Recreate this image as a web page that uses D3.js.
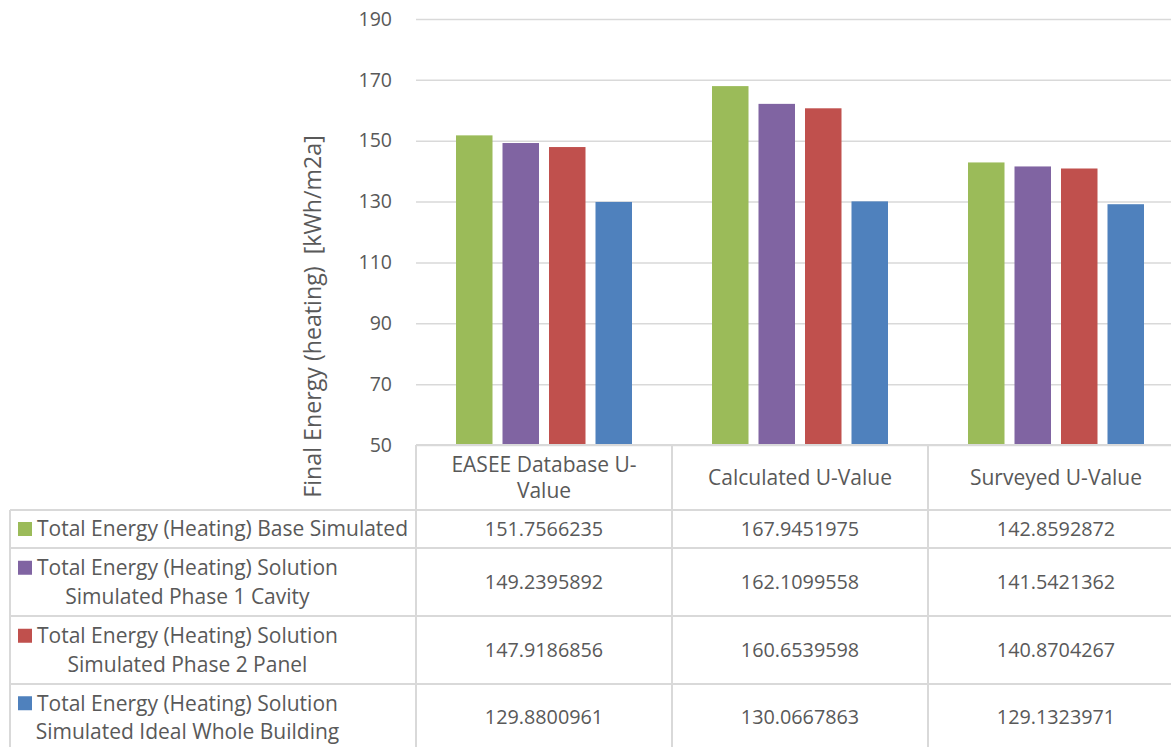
<!DOCTYPE html>
<html>
<head>
<meta charset="utf-8">
<script src="https://cdn.jsdelivr.net/npm/d3@7"></script>
<style>
  html, body { margin: 0; padding: 0; background: #ffffff; }
  svg { display: block; }
  text { font-family: "Open Sans", "DejaVu Sans", sans-serif; fill: #595959; }
</style>
</head>
<body>
<svg id="chart" width="1171" height="747"></svg>
<script>
// ---- data ----
const categories = ["EASEE Database U-Value", "Calculated U-Value", "Surveyed U-Value"];
const categoryLabelLines = [["EASEE Database U-", "Value"], ["Calculated U-Value"], ["Surveyed U-Value"]];
const seriesNames = [
  "Total Energy (Heating) Base Simulated",
  "Total Energy (Heating) Solution Simulated Phase 1 Cavity",
  "Total Energy (Heating) Solution Simulated Phase 2 Panel",
  "Total Energy (Heating) Solution Simulated Ideal Whole Building"
];
const seriesLabelLines = [
  ["Total Energy (Heating) Base Simulated"],
  ["Total Energy (Heating) Solution", "Simulated Phase 1 Cavity"],
  ["Total Energy (Heating) Solution", "Simulated Phase 2 Panel"],
  ["Total Energy (Heating) Solution", "Simulated Ideal Whole Building"]
];
const baseSimulated = [151.7566235, 167.9451975, 142.8592872];
const phase1Cavity = [149.2395892, 162.1099558, 141.5421362];
const phase2Panel = [147.9186856, 160.6539598, 140.8704267];
const idealWholeBuilding = [129.8800961, 130.0667863, 129.1323971];
const valueLabels = [
  ["151.7566235", "167.9451975", "142.8592872"],
  ["149.2395892", "162.1099558", "141.5421362"],
  ["147.9186856", "160.6539598", "140.8704267"],
  ["129.8800961", "130.0667863", "129.1323971"]
];
const yTicks = [50, 70, 90, 110, 130, 150, 170, 190];
const yTitle = "Final Energy (heating)  [kWh/m2a]";
const seriesColors = ["#9BBB59", "#8064A2", "#C0504D", "#4F81BD"];

const seriesValues = [baseSimulated, phase1Cavity, phase2Panel, idealWholeBuilding];

// ---- layout ----
const svg = d3.select("#chart");
const plotLeft = 416, plotRight = 1184, plotTop = 19, plotBottom = 445;
const tableLeft = 10;
const rowEdges = [445, 510, 548, 616, 684, 760];
const gridColor = "#D9D9D9";

const x0 = d3.scaleBand().domain(categories).range([plotLeft, plotRight]).paddingInner(0).paddingOuter(0);
const x1 = d3.scaleBand().domain(seriesNames).range([40, 216]).paddingInner(0.215).paddingOuter(0);
const y = d3.scaleLinear().domain([50, 190]).range([plotBottom, plotTop]);

// gridlines
const yAxis = d3.axisLeft(y).tickValues(yTicks).tickSize(-(plotRight - plotLeft)).tickPadding(24).tickFormat(d3.format("d"));
const gAxis = svg.append("g").attr("transform", `translate(${plotLeft},0)`).call(yAxis);
gAxis.select(".domain").remove();
gAxis.selectAll(".tick line").attr("stroke", gridColor).attr("stroke-width", 1.5);
gAxis.selectAll(".tick text").attr("font-size", 19.5).attr("fill", "#595959")
  .attr("font-family", '"Open Sans", sans-serif');

// bars
const groups = svg.append("g").selectAll("g").data(categories).join("g")
  .attr("transform", d => `translate(${x0(d)},0)`);
groups.selectAll("rect")
  .data((c, ci) => seriesNames.map((s, si) => ({ s, si, v: seriesValues[si][ci] })))
  .join("rect")
  .attr("x", d => x1(d.s))
  .attr("width", x1.bandwidth())
  .attr("y", d => y(d.v))
  .attr("height", d => y(50) - y(d.v))
  .attr("fill", d => seriesColors[d.si]);

// y title
svg.append("text")
  .attr("transform", `translate(313,316.5) rotate(-90)`)
  .attr("text-anchor", "middle")
  .attr("dy", "0.35em")
  .attr("font-size", 23.2)
  .style("white-space", "pre")
  .attr("xml:space", "preserve")
  .text(yTitle);

// ---- data table ----
const tbl = svg.append("g");
// horizontal lines
tbl.append("line").attr("x1", plotLeft).attr("x2", 1171).attr("y1", rowEdges[0]).attr("y2", rowEdges[0])
  .attr("stroke", gridColor).attr("stroke-width", 2);
rowEdges.slice(1, 5).forEach(ry => {
  tbl.append("line").attr("x1", tableLeft).attr("x2", 1171).attr("y1", ry).attr("y2", ry)
    .attr("stroke", gridColor).attr("stroke-width", 2);
});
// vertical lines
tbl.append("line").attr("x1", tableLeft).attr("x2", tableLeft).attr("y1", rowEdges[1]).attr("y2", 747)
  .attr("stroke", gridColor).attr("stroke-width", 2);
categories.forEach(c => {
  tbl.append("line").attr("x1", x0(c)).attr("x2", x0(c)).attr("y1", rowEdges[0]).attr("y2", 747)
    .attr("stroke", gridColor).attr("stroke-width", 2);
});

// header labels
categories.forEach((c, ci) => {
  const lines = categoryLabelLines[ci];
  const cy = (rowEdges[0] + rowEdges[1]) / 2;
  const lh = 26;
  lines.forEach((ln, li) => {
    tbl.append("text")
      .attr("x", x0(c) + x0.bandwidth() / 2)
      .attr("y", cy + (li - (lines.length - 1) / 2) * lh)
      .attr("dy", "0.35em")
      .attr("text-anchor", "middle")
      .attr("font-size", 21)
      .text(ln);
  });
});

// rows
seriesNames.forEach((s, si) => {
  const top = rowEdges[si + 1];
  const bottom = si === 3 ? 751 : rowEdges[si + 2];
  const cy = (top + bottom) / 2;
  const lines = seriesLabelLines[si];
  const lh = 28.5;
  const firstY = cy - (lines.length - 1) / 2 * lh;
  // legend key
  tbl.append("rect").attr("x", 18).attr("y", firstY - 7).attr("width", 14).attr("height", 14)
    .attr("fill", seriesColors[si]);
  const t0 = tbl.append("text").attr("x", 37).attr("y", firstY).attr("dy", "0.35em")
    .attr("font-size", 21).text(lines[0]);
  const w0 = t0.node().getComputedTextLength();
  lines.slice(1).forEach((ln, li) => {
    tbl.append("text").attr("x", 37 + w0 / 2).attr("y", firstY + (li + 1) * lh).attr("dy", "0.35em")
      .attr("text-anchor", "middle").attr("font-size", 21).text(ln);
  });
  categories.forEach((c, ci) => {
    tbl.append("text")
      .attr("x", x0(c) + x0.bandwidth() / 2)
      .attr("y", cy)
      .attr("dy", "0.35em")
      .attr("text-anchor", "middle")
      .attr("font-size", 19.8)
      .text(valueLabels[si][ci]);
  });
});
</script>
</body>
</html>
